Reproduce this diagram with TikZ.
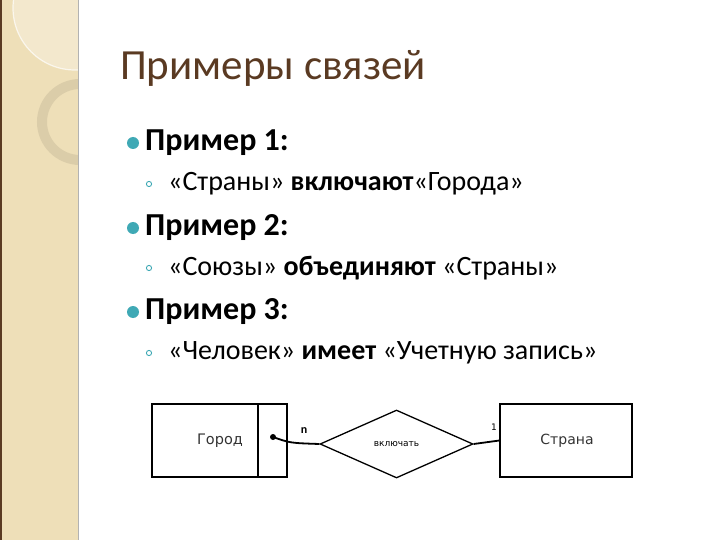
\documentclass[tikz,border=0pt]{standalone}
\usepackage{fontspec}
\setmainfont{Carlito}
\newfontfamily\djv{DejaVu Sans}
\usetikzlibrary{shapes.geometric}
\definecolor{beige}{HTML}{EEDFB8}
\definecolor{titlec}{HTML}{5A3A22}
\definecolor{teal}{HTML}{3FA9B5}
\tikzset{ent/.style={draw,line width=1.3pt,minimum width=135pt,minimum height=73pt,inner sep=0},
 lbl/.style={anchor=west,inner sep=0}}
\begin{document}
\begin{tikzpicture}[x=1pt,y=-1pt]
\useasboundingbox (0,0) rectangle (720,540);
\fill[white] (0,0) rectangle (720,540);
\begin{scope}
\clip (0,0) rectangle (78,540);
\fill[beige] (0,0) rectangle (78,540);
\fill[white,opacity=0.3] (75,8) circle (62);
\draw[white,opacity=0.7,line width=1.2pt] (75,8) circle (62);
\draw[black!8!beige,line width=10pt] (80,122) circle (38);
\end{scope}
\fill[titlec] (0,0) rectangle (2,540);
\draw[black!30,line width=1pt] (78.5,0) -- (78.5,540);
\node[lbl,text=titlec,font=\fontsize{43}{48}\selectfont] (title) at (120,68) {Примеры связей};
\foreach \y/\t in {143/1,228/2,312/3}{
  \fill[teal] (133,\y) circle (6);
  \node[lbl,font=\fontsize{32}{36}\selectfont\bfseries] at (145,\y) {Пример \t:};
}
\foreach \y in {184,268,353}{\draw[teal,line width=0.9pt] (149,\y) circle (2.6);}
\node[lbl,font=\fontsize{28}{32}\selectfont] at (168,184) {«Страны» \textbf{включают}«Города»};
\node[lbl,font=\fontsize{28}{32}\selectfont] at (168,268) {«Союзы» \textbf{объединяют} «Страны»};
\node[lbl,font=\fontsize{28}{32}\selectfont] at (168,353) {«Человек» \textbf{имеет} «Учетную запись»};
\node[ent] (gorod) at (219.5,440.5) {};
\draw[line width=1.3pt] (258,404) -- (258,477);
\node[font=\djv\fontsize{14.5}{16}\selectfont,text=black!80] at (220,441) {Город};
\node[draw,diamond,aspect=2.25,line width=1.3pt,minimum width=153pt,minimum height=68pt,inner sep=0] (rel) at (396.5,444) {};
\node[font=\djv\fontsize{9}{11}\selectfont] at (396.5,444) {включать};
\node[ent,minimum width=132pt] (strana) at (566,440.5) {};
\node[font=\djv\fontsize{14}{16}\selectfont,text=black!80] at (567,441) {Страна};
\coordinate (dot) at (273,437);
\fill (dot) circle (3);
\draw[line width=1.8pt] (dot) .. controls (290,443) .. (rel.west);
\draw[line width=1.8pt] (rel.east) -- (strana.west);
\node[font=\fontsize{12}{14}\selectfont\bfseries] at (304,431) {n};
\node[font=\djv\fontsize{9}{11}\selectfont] at (494,427) {1};
\end{tikzpicture}
\end{document}
